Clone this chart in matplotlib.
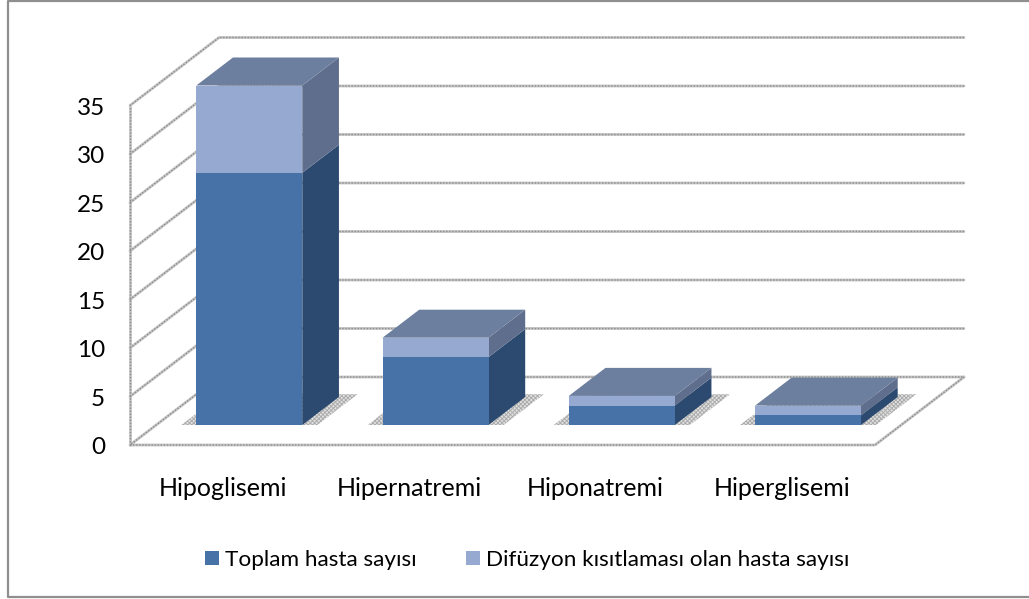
import matplotlib
matplotlib.use("Agg")
import matplotlib.pyplot as plt
from matplotlib.lines import Line2D

plt.rcParams['font.family'] = ['Lato', 'DejaVu Sans']
plt.rcParams['hatch.linewidth'] = 0.7

# Datos
categorias = ["Hipoglisemi", "Hipernatremi", "Hiponatremi", "Hiperglisemi"]
toplam = [26, 7, 2, 1]
difuzyon = [9, 2, 1, 1]
ticks = [0, 5, 10, 15, 20, 25, 30, 35]
nombre_toplam = "Toplam hasta sayısı"
nombre_difuzyon = "Difüzyon kısıtlaması olan hasta sayısı"

# Escala: una categoria son 186.25 px, una unidad de valor 9.7 px
W, H = 1029, 599
px_cat = 186.25
px_val = 9.7
x0, y0 = 130, 445
DX = 89 / px_cat
DY = 68 / px_val
d_front = 0.294
d_back = 0.706
ancho = 0.569

def proy(c, v, d=0):
    return c + d * DX, v + d * DY

def linea(puntos):
    xs = [p[0] for p in puntos]
    ys = [p[1] for p in puntos]
    ax.plot(xs, ys, color="#c4c4c4", lw=2.0, zorder=1, solid_capstyle="round")
    ax.plot(xs, ys, color="#8c8c8c", lw=1.0, ls=(0, (1, 1.2)), zorder=1.1)

def cara(puntos, color, z=3):
    ax.fill([p[0] for p in puntos], [p[1] for p in puntos], color=color, lw=0, zorder=z)

fig = plt.figure(figsize=(W / 100, H / 100), dpi=100)
ax = fig.add_axes([0, 0, 1, 1])
ax.set_xlim(-x0 / px_cat, (W - x0) / px_cat)
ax.set_ylim(-(H - y0) / px_val, y0 / px_val)
ax.axis("off")

# Borde exterior (sin lado derecho)
borde_x = [W, 7.5, 7.5, W]
borde_y = [0.5, 0.5, 597, 597]
fig.add_artist(Line2D([v / W for v in borde_x], [1 - v / H for v in borde_y], transform=fig.transFigure,
                      color="#8f8f8f", lw=1.6))

# Rejilla: pared lateral, pared trasera y suelo
n = len(categorias)
for t in ticks:
    puntos = [proy(0, t, 0), proy(0, t, 1), proy(n, t, 1)]
    if t == 0:
        puntos = [proy(n, 0, 1), proy(n, 0, 0), proy(0, 0, 0), proy(0, 0, 1), proy(n, 0, 1)]
    linea(puntos)
linea([proy(0, 0, 0), proy(0, ticks[-1], 0)])
for t in ticks:
    ax.text(-25 / px_cat, t - 0.3, str(t), ha="right", va="center", fontsize=17.5, color="black")

# Barras
for i in range(n):
    c = i + 0.5 - ancho / 2
    c1 = c + ancho
    a = toplam[i]
    b = a + difuzyon[i]

    # sombra en el suelo
    sx = 15 / px_cat
    sombra = [proy(c - sx, 0, d_front), proy(c1 + sx, 0, d_front), proy(c1 + sx, 0, d_back + 0.04), proy(c - sx, 0, d_back + 0.04)]
    ax.fill([p[0] for p in sombra], [p[1] for p in sombra], facecolor="#e2e2e2", edgecolor="#adadad",
            hatch="xxxxxxxx", lw=0, zorder=2)

    # caras laterales y superior
    cara([proy(c1, 0, d_front), proy(c1, 0, d_back), proy(c1, a, d_back), proy(c1, a, d_front)], "#2c4a70")
    cara([proy(c1, a, d_front), proy(c1, a, d_back), proy(c1, b, d_back), proy(c1, b, d_front)], "#5f6e8c")
    cara([proy(c, b, d_front), proy(c1, b, d_front), proy(c1, b, d_back), proy(c, b, d_back)], "#6d7f9e")

# Caras frontales
xpos = [i + 0.5 + d_front * DX for i in range(n)]
base = d_front * DY
b1 = ax.bar(xpos, toplam, width=ancho, bottom=base, color="#4672a8", zorder=4, label=nombre_toplam)
b2 = ax.bar(xpos, difuzyon, width=ancho, bottom=[base + v for v in toplam], color="#95a9d1", zorder=4, label=nombre_difuzyon)

# Etiquetas de categorias
for i, nombre in enumerate(categorias):
    ax.text(i + 0.5, -4.5, nombre, ha="center", va="center", fontsize=18, color="black")

leg = ax.legend(handles=[b1, b2], loc="center", bbox_to_anchor=(527 / W, 1 - 560 / H), bbox_transform=fig.transFigure,
                ncol=2, frameon=False, fontsize=16.2, handlelength=0.62, handleheight=0.62,
                handletextpad=0.27, columnspacing=2.2, borderpad=0)

fig.savefig("out.png", dpi=100)
